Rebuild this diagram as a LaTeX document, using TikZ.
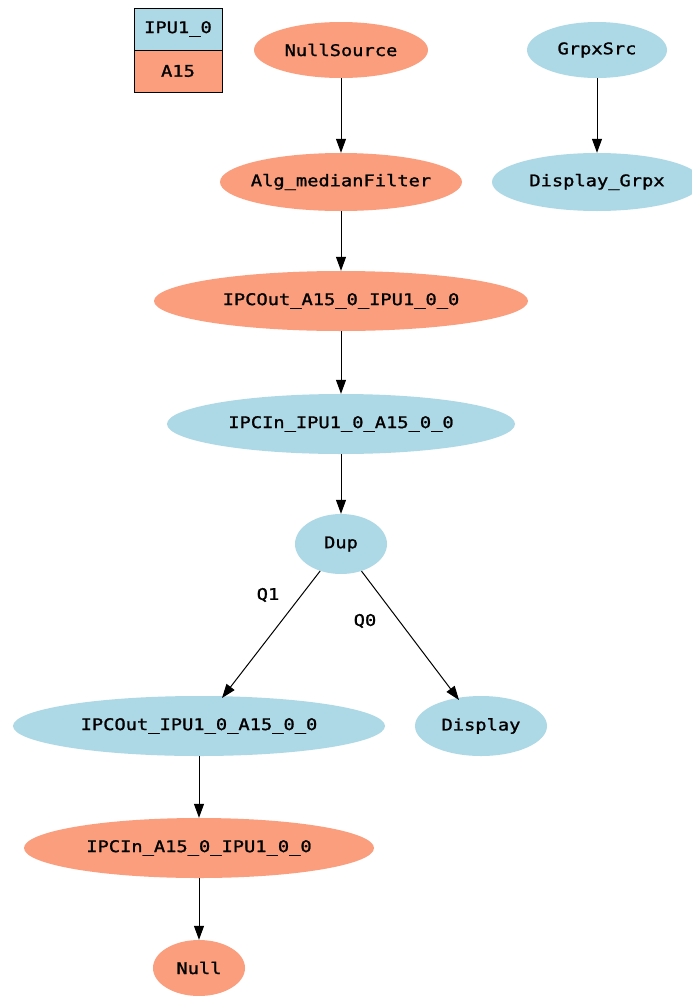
\documentclass[tikz,border=0pt]{standalone}
\usepackage{fontspec}
\usetikzlibrary{shapes.geometric,arrows.meta}
\newfontfamily\nodefont[FakeStretch=1.17,FakeBold=1.3]{DejaVu Sans Mono}
\definecolor{blu}{HTML}{ADD8E6}
\definecolor{sal}{HTML}{FA9E7D}
\newcommand{\zb}[1]{\makebox[0pt]{#1}}
\tikzset{
  nd/.style={ellipse, inner sep=0pt, font=\nodefont\fontsize{16}{18}\selectfont, text=black},
  bl/.style={nd, fill=blu},
  sl/.style={nd, fill=sal},
  arr/.style={draw=black, line width=1pt, -{Triangle[length=14pt,width=10pt]}},
  lbl/.style={font=\nodefont\fontsize{16}{18}\selectfont, text=black},
  cell/.style={rectangle, draw=black, line width=1pt, minimum width=88pt, minimum height=42pt, inner sep=0pt, font=\nodefont\fontsize{16}{18}\selectfont}
}
\begin{document}
\begin{tikzpicture}[x=1pt,y=-1pt]
\useasboundingbox[fill=white] (0,0) rectangle (691,996);
% legend
\node[cell, fill=blu] (lgA) at (178,29) {IPU1\_0};
\node[cell, fill=sal] (lgB) at (178,71) {A15};
% nodes
\node[sl, minimum width=174pt, minimum height=56pt] (ns) at (341,50) {\zb{NullSource}};
\node[bl, minimum width=140pt, minimum height=56pt] (gs) at (597,50) {\zb{GrpxSrc}};
\node[sl, minimum width=242pt, minimum height=58pt] (alg) at (341,182) {\zb{Alg\_medianFilter}};
\node[bl, minimum width=210pt, minimum height=58pt] (dg) at (597,182) {\zb{Display\_Grpx}};
\node[sl, minimum width=374pt, minimum height=60pt] (o1) at (341,301) {\zb{IPCOut\_A15\_0\_IPU1\_0\_0}};
\node[bl, minimum width=348pt, minimum height=60pt] (i1) at (341,424) {\zb{IPCIn\_IPU1\_0\_A15\_0\_0}};
\node[bl, minimum width=92pt, minimum height=60pt] (dup) at (341,544) {\zb{Dup}};
\node[bl, minimum width=372pt, minimum height=60pt] (o2) at (199,726) {\zb{IPCOut\_IPU1\_0\_A15\_0\_0}};
\node[bl, minimum width=132pt, minimum height=60pt] (disp) at (481,726) {\zb{Display}};
\node[sl, minimum width=350pt, minimum height=60pt] (i2) at (199,848) {\zb{IPCIn\_A15\_0\_IPU1\_0\_0}};
\node[sl, minimum width=92pt, minimum height=56pt] (nul) at (199,968) {\zb{Null}};
% edges
\draw[arr] (ns) -- (alg);
\draw[arr] (gs) -- (dg);
\draw[arr] (alg) -- (o1);
\draw[arr] (o1) -- (i1);
\draw[arr] (i1) -- (dup);
\draw[arr] (dup) -- (222,698);
\draw[arr] (dup) -- (459,700);
\draw[arr] (o2) -- (i2);
\draw[arr] (i2) -- (nul);
\node[lbl] (q1) at (268,595) {Q1};
\node[lbl] (q0) at (365,621) {Q0};
\end{tikzpicture}
\end{document}
